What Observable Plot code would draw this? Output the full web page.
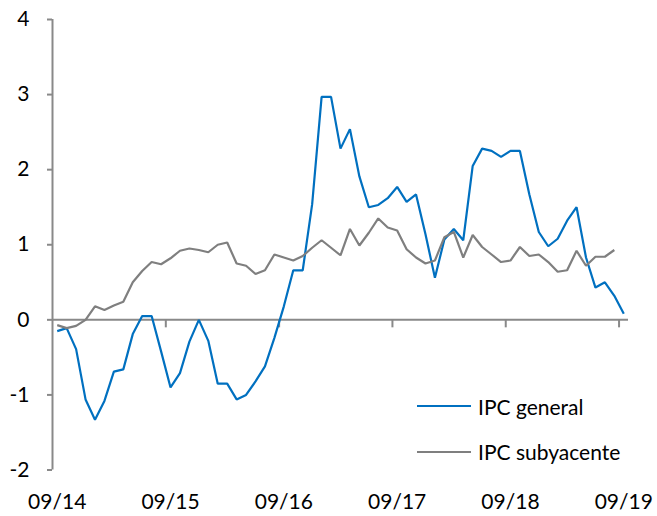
<!DOCTYPE html>
<html>
<head>
<meta charset="utf-8">
<script src="https://cdn.jsdelivr.net/npm/d3@7"></script>
<script src="https://cdn.jsdelivr.net/npm/@observablehq/plot@0.6"></script>
<style>
  html, body { margin: 0; padding: 0; background: #fff; }
  #wrap { position: relative; width: 657px; height: 516px; font-family: Lato, sans-serif; }
  .leg { position: absolute; left: 417px; height: 24px; display: flex; align-items: center; font-size: 21px; color: #000; white-space: nowrap; }
  .sw { width: 54px; height: 2px; margin-right: 7px; }
</style>
</head>
<body>
<div id="wrap"></div>
<script>
// Monthly series, 09/2014 .. 09/2019 (index 0 = 09/14)
const seriesNames = ["IPC general", "IPC subyacente"];
const seriesColors = ["#0070C0", "#7F7F7F"];
const general = [
  -0.15, -0.11, -0.39, -1.06, -1.33, -1.08, -0.69, -0.66, -0.19, 0.05, 0.05, -0.42,
  -0.90, -0.71, -0.29, 0.00, -0.28, -0.85, -0.85, -1.06, -1.00, -0.82, -0.62, -0.24,
  0.18, 0.66, 0.66, 1.54, 2.97, 2.97, 2.28, 2.54, 1.91, 1.50, 1.53, 1.62,
  1.77, 1.57, 1.67, 1.14, 0.56, 1.07, 1.21, 1.06, 2.05, 2.28, 2.25, 2.17,
  2.25, 2.25, 1.67, 1.17, 0.98, 1.08, 1.32, 1.50, 0.83, 0.43, 0.50, 0.32,
  0.08
];
const subyacente = [
  -0.07, -0.11, -0.08, 0.00, 0.18, 0.13, 0.19, 0.24, 0.50, 0.65, 0.77, 0.74,
  0.82, 0.92, 0.95, 0.93, 0.90, 1.00, 1.03, 0.75, 0.72, 0.61, 0.66, 0.87,
  0.83, 0.79, 0.85, 0.96, 1.06, 0.96, 0.86, 1.21, 0.99, 1.16, 1.35, 1.23,
  1.19, 0.94, 0.83, 0.75, 0.79, 1.10, 1.17, 0.83, 1.13, 0.97, 0.87, 0.77,
  0.79, 0.97, 0.85, 0.87, 0.77, 0.64, 0.66, 0.92, 0.72, 0.84, 0.84, 0.93
];
const xTickIndex = [0, 12, 24, 36, 48, 60];
const xTickLabels = ["09/14", "09/15", "09/16", "09/17", "09/18", "09/19"];
const yTicks = [-2, -1, 0, 1, 2, 3, 4];

const rows = [];
general.forEach((v, i) => rows.push({i, v, s: seriesNames[0]}));
subyacente.forEach((v, i) => rows.push({i, v, s: seriesNames[1]}));
const n = general.length;
const boundaries = xTickIndex.slice(1).map(d => d - 0.5);
const labelOf = new Map(xTickIndex.map((d, k) => [d, xTickLabels[k]]));
const axisColor = "#898989";

const chart = Plot.plot({
  width: 657,
  height: 516,
  marginLeft: 52,
  marginRight: 29,
  marginTop: 19,
  marginBottom: 46.5,
  style: {fontFamily: "Lato, sans-serif", fontSize: "21px", color: "#000", background: "#fff"},
  x: {type: "linear", domain: [-0.5, n - 0.5]},
  y: {domain: [yTicks[0], yTicks[yTicks.length - 1]]},
  color: {domain: seriesNames, range: seriesColors},
  marks: [
    Plot.axisY({ticks: yTicks, tickSize: 5, tickPadding: 18, stroke: axisColor, strokeWidth: 2, tickFormat: d => String(d), label: null, fill: "#000"}),
    Plot.axisX({ticks: xTickIndex, tickSize: 0, tickPadding: 24, tickFormat: d => labelOf.get(d), label: null, fill: "#000"}),
    Plot.ruleX([-0.5], {y1: yTicks[0], y2: yTicks[yTicks.length - 1], stroke: axisColor, strokeWidth: 2}),
    Plot.ruleY([0], {stroke: axisColor, strokeWidth: 2}),
    Plot.ruleX(boundaries, {y1: 0, y2: 0, insetTop: 0, insetBottom: -8, stroke: axisColor, strokeWidth: 2}),
    Plot.line(rows, {x: "i", y: "v", z: "s", stroke: "s", strokeWidth: 2.2, strokeLinejoin: "miter", strokeLinecap: "butt"})
  ]
});

const wrap = document.getElementById("wrap");
wrap.appendChild(chart);
const legendTops = [394, 439.5];
seriesNames.forEach((name, k) => {
  const item = document.createElement("div");
  item.className = "leg";
  item.style.top = legendTops[k] + "px";
  const sw = document.createElement("span");
  sw.className = "sw";
  sw.style.background = seriesColors[k];
  const t = document.createElement("span");
  t.textContent = name;
  item.appendChild(sw);
  item.appendChild(t);
  wrap.appendChild(item);
});
</script>
</body>
</html>
